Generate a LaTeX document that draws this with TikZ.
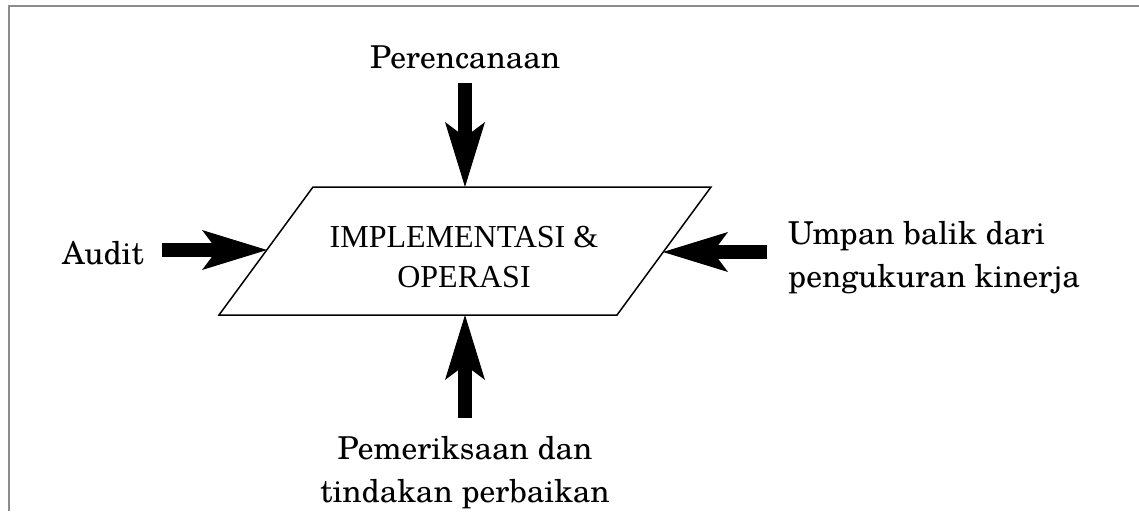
\documentclass[tikz,border=0pt]{standalone}
\usepackage{fontspec}
\setmainfont{TeX Gyre Schola}
\newfontfamily\tnr{Liberation Serif}
\usetikzlibrary{arrows.meta}
\tikzset{
  x=1pt, y=-1pt,
  frame/.style={draw={rgb,255:red,140;green,140;blue,140}, line width=2pt},
  shape box/.style={draw=black, line width=1.5pt, line join=miter},
  bigarrow/.style={line width=14pt, -{Stealth[length=65pt,width=40pt,inset=15pt,line width=0pt]}},
  lbl/.style={font=\fontsize{31.5}{43}\selectfont, inner sep=0pt},
  ctr/.style={font=\tnr\fontsize{32}{40}\selectfont, align=center, inner sep=0pt},
}
\begin{document}
\begin{tikzpicture}
\useasboundingbox (0,0) rectangle (1139,511);
\fill[white] (0,0) rectangle (1139,511);
\draw[frame] (9,511) -- (9,6) -- (1139,6);

% parallelogram
\coordinate (tl) at (313,187);
\coordinate (tr) at (711,187);
\coordinate (br) at (617,315);
\coordinate (bl) at (219,315);
\draw[shape box] (tl) -- (tr) -- (br) -- (bl) -- cycle;
\node[ctr] (core) at (464,257) {IMPLEMENTASI \&\\OPERASI};

% arrow targets on the shape
\coordinate (intop) at (465,187);
\coordinate (inbot) at (465,315);
\coordinate (inleft) at (267,250);
\coordinate (inright) at (663,252);

% labels
\node[lbl] (plan) at (465,57) {Perencanaan};
\node[lbl, anchor=east] (audit) at (144,253) {Audit};
\node[lbl, anchor=west, align=left] (feed) at (788,258) {Umpan balik dari\\pengukuran kinerja};
\node[lbl, align=center] (check) at (465,473) {Pemeriksaan dan\\tindakan perbaikan};

% arrow tails
\coordinate (ttop) at (465,83);
\coordinate (tbot) at (465,418);
\coordinate (tleft) at (162,250);
\coordinate (tright) at (767,252);

\draw[bigarrow] (ttop) -- (intop);
\draw[bigarrow] (tbot) -- (inbot);
\draw[bigarrow] (tleft) -- (inleft);
\draw[bigarrow] (tright) -- (inright);
\end{tikzpicture}
\end{document}
